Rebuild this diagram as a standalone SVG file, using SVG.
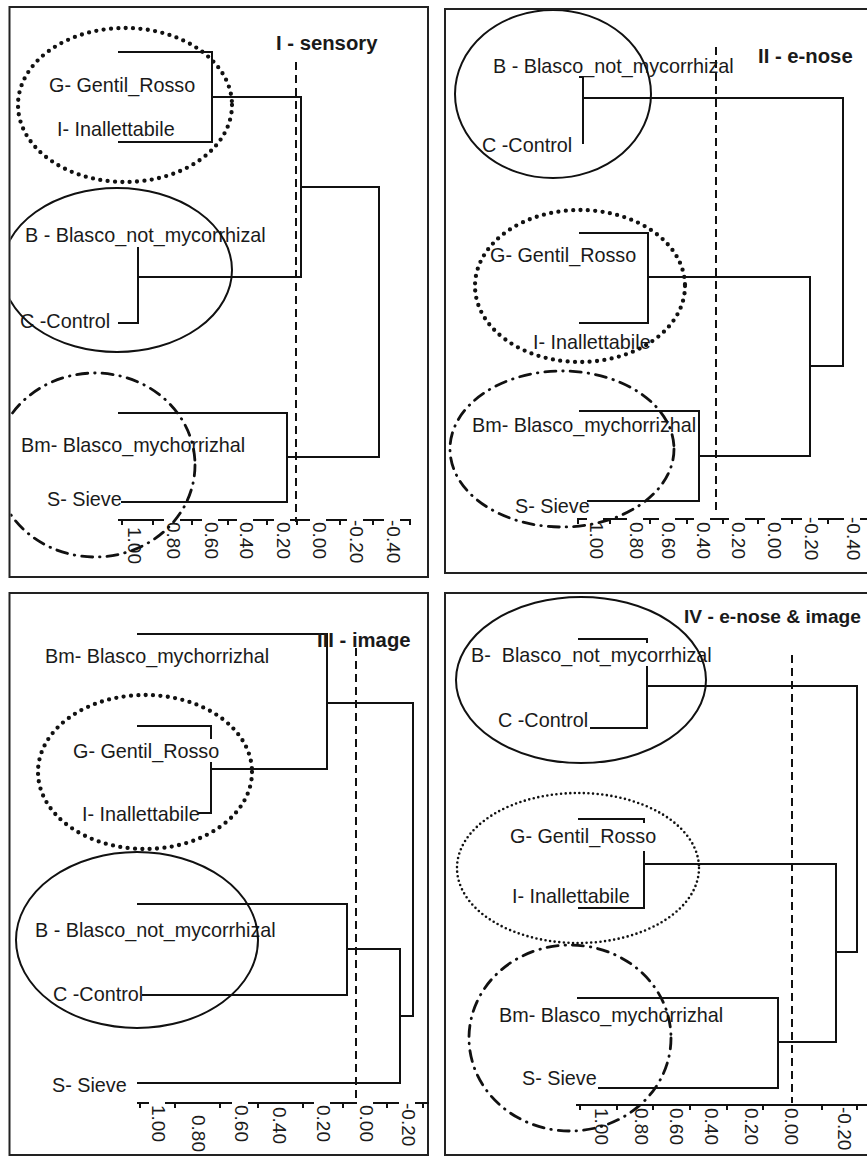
<svg xmlns="http://www.w3.org/2000/svg" width="867" height="1157" viewBox="0 0 867 1157">
<style>
.frame{fill:none;stroke:#222;stroke-width:2}
.ln{fill:none;stroke:#111;stroke-width:2;stroke-linecap:square}
.cut{fill:none;stroke:#111;stroke-width:2;stroke-dasharray:8 5}
.lab{font-family:"Liberation Sans",Arial,sans-serif;font-size:19.8px;fill:#1a1a1a}
.ttl{font-family:"Liberation Sans",Arial,sans-serif;font-size:20.3px;font-weight:bold;fill:#1a1a1a}
.ax{font-family:"Liberation Sans",Arial,sans-serif;font-size:19px;fill:#1a1a1a}
.bg{fill:#fff}
.solid{fill:none;stroke:#111;stroke-width:2}
.dot{fill:none;stroke:#111;stroke-width:4.3;stroke-dasharray:0 7.4;stroke-linecap:round}
.fdot{fill:none;stroke:#111;stroke-width:2.6;stroke-dasharray:0 4.6;stroke-linecap:round}
.dd{fill:none;stroke:#111;stroke-width:2.8;stroke-dasharray:11 7 0.5 7;stroke-linecap:round}
</style>
<defs>
<clipPath id="c1"><rect x="10.5" y="8" width="416.5" height="568"/></clipPath>
<clipPath id="c2"><rect x="446" y="10" width="421" height="562"/></clipPath>
<clipPath id="c3"><rect x="10.5" y="594" width="416.5" height="560"/></clipPath>
<clipPath id="c4"><rect x="446" y="594" width="421" height="560"/></clipPath>
</defs>
<rect width="867" height="1157" fill="#fff"/>

<g id="panel-I">
<rect class="frame" x="9.5" y="7" width="418.5" height="570"/>
<g id="connectors-I">
<path class="ln" d="M119,52 H212 V142 H119 M212,97 H301 M138,248 V323 H119 M138,277 H301 M301,97 V277 M301,187 H379 V457 H287 M119,413 H287 V502 H122"/>
<path class="cut" d="M296,62 V522"/>
<path class="ln" d="M119,520 H408 M122,520 v4 M153,520 v4 M192,520 v4 M228,520 v4 M267,520 v4 M297,520 v4 M340,520 v4 M373,520 v4 M410,520 v4"/>
</g>
<g id="axis-I">
<rect class="bg" x="125" y="524" width="16" height="44"/>
<rect class="bg" x="164" y="518" width="16" height="40"/>
<rect class="bg" x="202" y="518" width="16" height="40"/>
<rect class="bg" x="237" y="518" width="16" height="40"/>
<rect class="bg" x="274" y="518" width="16" height="40"/>
<rect class="bg" x="310" y="518" width="16" height="40"/>
<rect class="bg" x="347" y="516" width="16" height="48"/>
<rect class="bg" x="384" y="516" width="16" height="48"/>
<text class="ax" transform="translate(128,527) rotate(90)">1.00</text>
<text class="ax" transform="translate(167,522) rotate(90)">0.80</text>
<text class="ax" transform="translate(205,522) rotate(90)">0.60</text>
<text class="ax" transform="translate(240,522) rotate(90)">0.40</text>
<text class="ax" transform="translate(277,522) rotate(90)">0.20</text>
<text class="ax" transform="translate(313,522) rotate(90)">0.00</text>
<text class="ax" transform="translate(350,520) rotate(90)">-0.20</text>
<text class="ax" transform="translate(387,520) rotate(90)">-0.40</text>
</g>
<text id="t1" class="ttl" x="276" y="50">I - sensory</text>
<g id="n1-G"><text class="lab" x="49" y="92">G- Gentil_Rosso</text></g>
<g id="n1-I"><text class="lab" x="57" y="136">I- Inallettabile</text></g>
<g id="n1-B"><text class="lab" x="25" y="242">B - Blasco_not_mycorrhizal</text></g>
<g id="n1-C"><text class="lab" x="20" y="328">C -Control</text></g>
<g id="n1-Bm"><text class="lab" x="21" y="452">Bm- Blasco_mychorrizhal</text></g>
<g id="n1-S"><text class="lab" x="47" y="506">S- Sieve</text></g>
<g id="groups-I" clip-path="url(#c1)">
<ellipse class="dot" cx="125" cy="105" rx="107" ry="77"/>
<ellipse class="solid" cx="117" cy="270" rx="115" ry="82"/>
<ellipse class="dd" cx="95" cy="465" rx="100" ry="92"/>
</g>
</g>

<g id="panel-II">
<rect class="frame" x="445" y="9" width="440" height="564"/>
<g id="connectors-II">
<path class="ln" d="M580,77 H583 V143 M583,98 H843 V366 H810 M580,233 H648 V323 H580 M648,277 H810 V456 H699 M580,411 H699 V501 H588"/>
<path class="cut" d="M716,47 V513"/>
<path class="ln" d="M578,519 H867 M578,519 v4 M610,519 v4 M650,519 v4 M687,519 v4 M723,519 v4 M758,519 v4 M792,519 v4 M828,519 v4"/>
</g>
<g id="axis-II">
<rect class="bg" x="587" y="517" width="16" height="40"/>
<rect class="bg" x="627" y="517" width="16" height="40"/>
<rect class="bg" x="659" y="517" width="16" height="40"/>
<rect class="bg" x="694" y="517" width="16" height="40"/>
<rect class="bg" x="729" y="517" width="16" height="40"/>
<rect class="bg" x="765" y="517" width="16" height="40"/>
<rect class="bg" x="802" y="515" width="16" height="48"/>
<rect class="bg" x="844" y="515" width="16" height="48"/>
<text class="ax" transform="translate(590,522) rotate(90)">1.00</text>
<text class="ax" transform="translate(630,522) rotate(90)">0.80</text>
<text class="ax" transform="translate(662,522) rotate(90)">0.60</text>
<text class="ax" transform="translate(697,522) rotate(90)">0.40</text>
<text class="ax" transform="translate(732,522) rotate(90)">0.20</text>
<text class="ax" transform="translate(768,522) rotate(90)">0.00</text>
<text class="ax" transform="translate(805,517) rotate(90)">-0.20</text>
<text class="ax" transform="translate(847,517) rotate(90)">-0.40</text>
</g>
<text id="t2" class="ttl" x="758" y="63">II - e-nose</text>
<g id="n2-B"><text class="lab" x="493" y="73">B - Blasco_not_mycorrhizal</text></g>
<g id="n2-C"><text class="lab" x="482" y="152">C -Control</text></g>
<g id="n2-G"><text class="lab" x="490" y="262">G- Gentil_Rosso</text></g>
<g id="n2-I"><text class="lab" x="533" y="349">I- Inallettabile</text></g>
<g id="n2-Bm"><text class="lab" x="472" y="432">Bm- Blasco_mychorrizhal</text></g>
<g id="n2-S"><text class="lab" x="515" y="513">S- Sieve</text></g>
<g id="groups-II" clip-path="url(#c2)">
<ellipse class="solid" cx="553" cy="94" rx="98" ry="84"/>
<ellipse class="dot" cx="580" cy="286" rx="105" ry="76"/>
<ellipse class="dd" cx="562" cy="449" rx="112" ry="78"/>
</g>
</g>

<g id="panel-III">
<rect class="frame" x="9.5" y="593" width="418.5" height="562"/>
<g id="connectors-III">
<path class="ln" d="M138,634 H327 V769 H211 M138,726 H211 V738 M211,763 V813 H199 M327,703 H413 V1016 H400 M138,904 H347 V995 H143 M347,949 H400 V1083 H138"/>
<path class="cut" d="M356,648 V1103"/>
<path class="ln" d="M138,1103 H428 M140,1103 v4 M175,1103 v4 M220,1103 v4 M258,1103 v4 M303,1103 v4 M343,1103 v4 M387,1103 v4 M423,1103 v4"/>
</g>
<g id="axis-III">
<rect class="bg" x="149" y="1102" width="16" height="40"/>
<rect class="bg" x="232" y="1102" width="16" height="40"/>
<rect class="bg" x="314" y="1102" width="16" height="40"/>
<rect class="bg" x="357" y="1102" width="16" height="40"/>
<rect class="bg" x="399" y="1101" width="16" height="46"/>
<text class="ax" transform="translate(152,1105) rotate(90)">1.00</text>
<text class="ax" transform="translate(192,1115) rotate(90)">0.80</text>
<text class="ax" transform="translate(235,1105) rotate(90)">0.60</text>
<text class="ax" transform="translate(273,1107) rotate(90)">0.40</text>
<text class="ax" transform="translate(317,1105) rotate(90)">0.20</text>
<text class="ax" transform="translate(360,1105) rotate(90)">0.00</text>
<text class="ax" transform="translate(402,1103) rotate(90)">-0.20</text>
</g>
<text id="t3" class="ttl" x="317" y="647">III - image</text>
<g id="n3-Bm"><text class="lab" x="45" y="663">Bm- Blasco_mychorrizhal</text></g>
<g id="n3-G"><text class="lab" x="73" y="758">G- Gentil_Rosso</text></g>
<g id="n3-I"><text class="lab" x="82" y="821">I- Inallettabile</text></g>
<g id="n3-B"><text class="lab" x="35" y="937">B - Blasco_not_mycorrhizal</text></g>
<g id="n3-C"><text class="lab" x="53" y="1001">C -Control</text></g>
<g id="n3-S"><text class="lab" x="52" y="1092">S- Sieve</text></g>
<g id="groups-III" clip-path="url(#c3)">
<ellipse class="dot" cx="145" cy="772" rx="107" ry="77"/>
<ellipse class="solid" cx="137" cy="940" rx="121" ry="88"/>
</g>
</g>

<g id="panel-IV">
<rect class="frame" x="445" y="593" width="440" height="562"/>
<g id="connectors-IV">
<path class="ln" d="M579,639 H647 V642 M647,667 V728 H591 M647,686 H857 V952 H836 M579,819 H644 V822 M644,852 V908 H579 M644,864 H836 V1042 H778 M578,998 H778 V1088 H599"/>
<path class="cut" d="M792,655 V1103"/>
<path class="ln" d="M577,1105 H867 M580,1105 v4 M617,1105 v4 M653,1105 v4 M690,1105 v4 M727,1105 v4 M763,1105 v4 M822,1105 v4 M857,1105 v4"/>
</g>
<g id="axis-IV">
<text class="ax" transform="translate(595,1108) rotate(90)">1.00</text>
<text class="ax" transform="translate(635,1108) rotate(90)">0.80</text>
<text class="ax" transform="translate(670,1108) rotate(90)">0.60</text>
<text class="ax" transform="translate(705,1108) rotate(90)">0.40</text>
<text class="ax" transform="translate(745,1108) rotate(90)">0.20</text>
<text class="ax" transform="translate(785,1108) rotate(90)">0.00</text>
<text class="ax" transform="translate(838,1107) rotate(90)">-0.20</text>
</g>
<text id="t4" class="ttl" x="684" y="623" style="font-size:19.2px">IV - e-nose &amp; image</text>
<g id="n4-B"><text class="lab" x="471" y="662" xml:space="preserve" style="white-space:pre">B-  Blasco_not_mycorrhizal</text></g>
<g id="n4-C"><text class="lab" x="498" y="727">C -Control</text></g>
<g id="n4-G"><text class="lab" x="510" y="843">G- Gentil_Rosso</text></g>
<g id="n4-I"><text class="lab" x="512" y="903">I- Inallettabile</text></g>
<g id="n4-Bm"><text class="lab" x="499" y="1022">Bm- Blasco_mychorrizhal</text></g>
<g id="n4-S"><text class="lab" x="522" y="1085">S- Sieve</text></g>
<g id="groups-IV" clip-path="url(#c4)">
<ellipse class="solid" cx="581" cy="680" rx="125" ry="83"/>
<ellipse class="fdot" cx="578" cy="868" rx="121" ry="75"/>
<ellipse class="dd" cx="570" cy="1038" rx="101" ry="93"/>
</g>
</g>
</svg>
